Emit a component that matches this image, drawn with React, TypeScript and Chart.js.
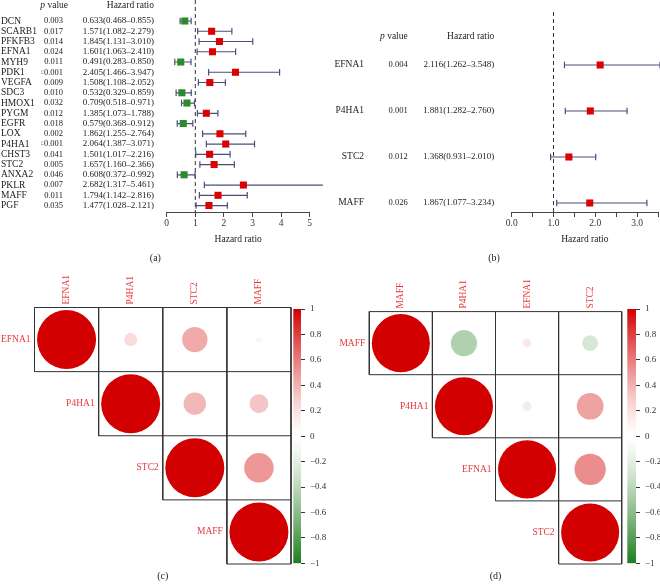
import React, { useEffect, useRef } from 'react';
import { Chart, registerables } from 'chart.js';

Chart.register(...registerables);

const FONT = "'Liberation Serif', 'DejaVu Serif', 'Times New Roman', serif";
Chart.defaults.font.family = FONT;
Chart.defaults.color = '#222';

// ---------- Panel (a): univariate Cox ----------
const genesA = ['DCN', 'SCARB1', 'PFKFB3', 'EFNA1', 'MYH9', 'PDK1', 'VEGFA', 'SDC3', 'HMOX1', 'PYGM', 'EGFR', 'LOX', 'P4HA1', 'CHST3', 'STC2', 'ANXA2', 'PKLR', 'MAFF', 'PGF'];
const pValuesA = ['0.003', '0.017', '0.014', '0.024', '0.011', '<0.001', '0.009', '0.010', '0.032', '0.012', '0.018', '0.002', '<0.001', '0.041', '0.005', '0.046', '0.007', '0.011', '0.035'];
const hrA = [0.633, 1.571, 1.845, 1.601, 0.491, 2.405, 1.508, 0.532, 0.709, 1.385, 0.579, 1.862, 2.064, 1.501, 1.657, 0.608, 2.682, 1.794, 1.477];
const lowA = [0.468, 1.082, 1.131, 1.063, 0.283, 1.466, 1.108, 0.329, 0.518, 1.073, 0.368, 1.255, 1.387, 1.017, 1.160, 0.372, 1.317, 1.142, 1.028];
const highA = [0.855, 2.279, 3.010, 2.410, 0.850, 3.947, 2.052, 0.859, 0.971, 1.788, 0.912, 2.764, 3.071, 2.216, 2.366, 0.992, 5.461, 2.816, 2.121];
const ticksA = [0, 1, 2, 3, 4, 5];

// ---------- Panel (b): multivariate Cox ----------
const genesB = ['EFNA1', 'P4HA1', 'STC2', 'MAFF'];
const pValuesB = ['0.004', '0.001', '0.012', '0.026'];
const hrB = [2.116, 1.881, 1.368, 1.867];
const lowB = [1.262, 1.282, 0.931, 1.077];
const highB = [3.548, 2.760, 2.010, 3.234];
const ticksB = [0, 0.5, 1, 1.5, 2, 2.5, 3, 3.5];

// ---------- Panels (c), (d): correlation ----------
const genesC = ['EFNA1', 'P4HA1', 'STC2', 'MAFF'];
const corrC = [
  [1, 0.22, 0.43, 0.09],
  [0.22, 1, 0.38, 0.32],
  [0.43, 0.38, 1, 0.5],
  [0.09, 0.32, 0.5, 1],
];
const genesD = ['MAFF', 'P4HA1', 'EFNA1', 'STC2'];
const corrD = [
  [1, -0.45, 0.15, -0.27],
  [-0.45, 1, -0.16, 0.46],
  [0.15, -0.16, 1, 0.54],
  [-0.27, 0.46, 0.54, 1],
];

const RED = '#dc0000';
const GREEN = '#2b8a2b';
const BAR = '#4d4d7a';
const LABEL_RED = '#e8383d';
const NEG_END = [30, 125, 30];
const MID = [255, 255, 255];
const POS_END = [210, 0, 0];
const GAMMA = 1.3;

function colorFor(v: number) {
  const t = Math.pow(Math.min(Math.abs(v), 1), GAMMA);
  const end = v < 0 ? NEG_END : POS_END;
  const c = MID.map((x, i) => Math.round(x + (end[i] - x) * t));
  return `rgb(${c[0]},${c[1]},${c[2]})`;
}

const f3 = (v: number) => v.toFixed(3);
const hrText = (hr: number[], lo: number[], hi: number[]) =>
  hr.map((h, i) => `${f3(h)}(${f3(lo[i])}\u2013${f3(hi[i])})`);

function ciSegments(lo: number[], hi: number[]) {
  const pts: any[] = [];
  lo.forEach((l, i) => {
    pts.push({ x: l, y: i }, { x: hi[i], y: i }, { x: null, y: null });
  });
  return pts;
}

const forestHeader = {
  id: 'forestHeader',
  afterDraw(chart: any, _a: any, opts: any) {
    const { ctx, scales } = chart;
    const y = scales.y.getPixelForValue(opts.row);
    const pS = scales.yP;
    const hS = scales.yHR;
    const pRight = pS.right - pS.options.ticks.padding + (opts.pShift || 0);
    const hRight = hS.right - hS.options.ticks.padding;
    ctx.save();
    ctx.fillStyle = '#222';
    ctx.textBaseline = 'middle';
    ctx.textAlign = 'right';
    ctx.font = `9.5px ${FONT}`;
    ctx.fillText('Hazard ratio', hRight, y);
    const rest = ' value';
    ctx.fillText(rest, pRight, y);
    const w = ctx.measureText(rest).width;
    ctx.font = `italic 9.5px ${FONT}`;
    ctx.fillText('p', pRight - w, y);
    ctx.restore();
  },
};

function rowAxis(labels: string[], weight: number, width: number, align: string, pad: number, size: number, min: number, max: number) {
  return {
    type: 'linear',
    position: 'left',
    weight,
    reverse: true,
    min,
    max,
    grid: { display: false, drawTicks: false },
    border: { display: false },
    ticks: {
      autoSkip: false,
      crossAlign: align,
      padding: pad,
      color: '#222',
      font: { size },
      callback: (v: number) => labels[v] ?? '',
    },
    afterBuildTicks: (s: any) => {
      s.ticks = labels.map((_, i) => ({ value: i }));
    },
    afterFit: (s: any) => {
      s.width = width;
      s.paddingTop = 0;
      s.paddingBottom = 0;
    },
  };
}

function forestConfig(o: any) {
  const hrLabels = hrText(o.hr, o.lo, o.hi);
  return {
    type: 'scatter',
    data: {
      datasets: [
        {
          type: 'scatter',
          data: o.hr.map((v: number, i: number) => ({ x: v, y: i })),
          pointStyle: 'rect',
          pointRadius: 5,
          pointHoverRadius: 5,
          pointBackgroundColor: o.hr.map((v: number) => (v >= 1 ? RED : GREEN)),
          pointBorderWidth: 0,
          clip: false,
        },
        {
          type: 'line',
          data: ciSegments(o.lo, o.hi),
          borderColor: BAR,
          borderWidth: 1.2,
          pointStyle: 'line',
          pointRotation: 90,
          pointRadius: 3.3,
          pointHoverRadius: 3.3,
          pointBorderColor: BAR,
          pointBorderWidth: 1.2,
          spanGaps: false,
          fill: false,
          clip: false,
        },
        {
          type: 'line',
          data: [{ x: 1, y: o.yMin }, { x: 1, y: o.yMax }],
          borderColor: '#333',
          borderWidth: 1,
          borderDash: [4, 3],
          pointRadius: 0,
          fill: false,
        },
      ],
    },
    plugins: [forestHeader],
    options: {
      responsive: false,
      animation: false,
      events: [],
      layout: { padding: o.padding, autoPadding: false },
      plugins: {
        legend: { display: false },
        tooltip: { enabled: false },
        title: {
          display: true,
          position: 'bottom',
          text: o.caption,
          color: '#222',
          font: { size: 10, weight: 'normal' },
          padding: { top: 0, bottom: 2 },
        },
        forestHeader: { row: o.headerRow, pShift: o.pShift },
      },
      scales: {
        x: {
          type: 'linear',
          position: 'bottom',
          min: 0,
          max: o.xMax,
          afterBuildTicks: (s: any) => {
            s.ticks = o.xTicks.map((v: number) => ({ value: v }));
          },
          ticks: {
            autoSkip: false,
            maxRotation: 0,
            padding: 1,
            color: '#333',
            font: { size: 9.5 },
            callback: o.xFmt,
          },
          grid: { display: true, drawOnChartArea: false, drawTicks: true, tickLength: 5, color: '#444', lineWidth: 1 },
          border: { display: true, color: '#444', width: 1 },
          title: {
            display: true,
            text: 'Hazard ratio',
            color: '#222',
            font: { size: 9.5 },
            padding: { top: 0, bottom: 7.3 },
          },
          afterFit: (s: any) => {
            s.height = 40;
            s.paddingLeft = 0;
            s.paddingRight = 0;
          },
        },
        y: rowAxis(o.genes, 3, o.widths[0], o.geneAlign, o.pads[0], 9.5, o.yMin, o.yMax),
        yP: rowAxis(o.pvals, 2, o.widths[1], 'near', o.pads[1], 8.5, o.yMin, o.yMax),
        yHR: rowAxis(hrLabels, 1, o.widths[2], 'near', o.pads[2], 9, o.yMin, o.yMax),
      },
    },
  };
}

const makeA = () =>
  forestConfig({
    genes: genesA,
    pvals: pValuesA,
    hr: hrA,
    lo: lowA,
    hi: highA,
    yMin: -2.05,
    yMax: 18.63,
    headerRow: -1.56,
    pShift: 5,
    xMax: 5,
    xTicks: ticksA,
    xFmt: (v: number) => String(v),
    widths: [40, 26, 99.7],
    pads: [0, 4, 12.7],
    geneAlign: 'far',
    padding: { left: 1, right: 20.3, top: 0, bottom: 0 },
    caption: '(a)',
  });

const makeB = () =>
  forestConfig({
    genes: genesB,
    pvals: pValuesB,
    hr: hrB,
    lo: lowB,
    hi: highB,
    yMin: -1.152,
    yMax: 3.196,
    headerRow: -0.61,
    pShift: 0,
    xMax: 3.5,
    xTicks: ticksB,
    xFmt: (v: number) => (Number.isInteger(v) ? v.toFixed(1) : ''),
    widths: [38, 43.7, 100],
    pads: [4, 4, 17.4],
    geneAlign: 'near',
    padding: { left: 0, right: 2, top: 12, bottom: 0 },
    caption: '(b)',
  });

// ---------- correlation plots ----------
function triangleGrid(n: number) {
  const pts: any[] = [];
  for (let k = 0; k <= n; k++) {
    pts.push({ x: Math.max(k - 1, 0), y: k }, { x: n, y: k }, { x: null, y: null });
    pts.push({ x: k, y: 0 }, { x: k, y: Math.min(k + 1, n) }, { x: null, y: null });
  }
  return pts;
}

const corrLabels = {
  id: 'corrLabels',
  afterDraw(chart: any, _a: any, opts: any) {
    const { ctx, scales, chartArea } = chart;
    ctx.save();
    ctx.fillStyle = LABEL_RED;
    ctx.font = `9.5px ${FONT}`;
    ctx.textBaseline = 'middle';
    ctx.textAlign = 'right';
    opts.labels.forEach((g: string, i: number) => {
      ctx.fillText(g, scales.x.getPixelForValue(i) - 4, scales.y.getPixelForValue(i + 0.5));
    });
    ctx.textAlign = 'left';
    opts.labels.forEach((g: string, j: number) => {
      ctx.save();
      ctx.translate(scales.x.getPixelForValue(j + 0.5), chartArea.top - 3);
      ctx.rotate(-Math.PI / 2);
      ctx.fillText(g, 0, 0);
      ctx.restore();
    });
    ctx.restore();
  },
};

function corrConfig(genes: string[], mat: number[][], topH: number, padL: number, padR: number, caption: string) {
  const n = genes.length;
  const pts: any[] = [];
  for (let i = 0; i < n; i++) for (let j = i; j < n; j++) pts.push({ x: j + 0.5, y: i + 0.5, v: mat[i][j] });
  const rad = (ctx: any) => {
    if (!ctx.raw || typeof ctx.raw.v !== 'number') return 0;
    const xs = ctx.chart.scales.x;
    const cell = Math.abs(xs.getPixelForValue(1) - xs.getPixelForValue(0));
    const r = 0.46 * cell * Math.abs(ctx.raw.v);
    return isFinite(r) ? r : 0;
  };
  return {
    type: 'scatter',
    data: {
      datasets: [
        {
          type: 'scatter',
          data: pts,
          pointStyle: 'circle',
          pointRadius: rad,
          pointHoverRadius: rad,
          pointBackgroundColor: (ctx: any) => (ctx.raw && typeof ctx.raw.v === 'number' ? colorFor(ctx.raw.v) : 'transparent'),
          pointBorderWidth: 0,
          clip: false,
        },
        {
          type: 'line',
          data: triangleGrid(n),
          borderColor: '#333',
          borderWidth: 1,
          pointRadius: 0,
          spanGaps: false,
          fill: false,
          clip: false,
        },
      ],
    },
    plugins: [corrLabels],
    options: {
      responsive: false,
      animation: false,
      events: [],
      layout: { padding: { left: padL, right: padR, top: topH, bottom: 0 }, autoPadding: false },
      plugins: {
        legend: { display: false },
        tooltip: { enabled: false },
        title: {
          display: true,
          position: 'bottom',
          text: caption,
          color: '#222',
          font: { size: 10, weight: 'normal' },
          padding: { top: 6, bottom: 6 },
        },
        corrLabels: { labels: genes },
      },
      scales: {
        x: { type: 'linear', display: false, min: 0, max: n },
        y: { type: 'linear', display: false, reverse: true, min: 0, max: n },
      },
    },
  };
}

const makeC = () => corrConfig(genesC, corrC, 45.5, 34.5, 39, '(c)');
const makeD = () => corrConfig(genesD, corrD, 49.6, 39.3, 38.3, '(d)');

const fmtBar = (v: number) => {
  const r = Math.round(v * 10) / 10;
  if (r === 0) return '0';
  return r < 0 ? '\u2212' + String(Math.abs(r)) : String(r);
};

function colorbarConfig(padLeft: number, axisW: number) {
  return {
    type: 'bar',
    data: {
      labels: [''],
      datasets: [
        {
          data: [[-1, 1]],
          backgroundColor: (ctx: any) => {
            const chart = ctx.chart;
            const ys = chart.scales.y;
            if (!ys || !chart.chartArea) return 'transparent';
            const a = ys.getPixelForValue(-1);
            const b = ys.getPixelForValue(1);
            if (!isFinite(a) || !isFinite(b)) return 'transparent';
            const g = chart.ctx.createLinearGradient(0, a, 0, b);
            for (let k = 0; k <= 40; k++) {
              const v = -1 + k / 20;
              g.addColorStop(k / 40, colorFor(v));
            }
            return g;
          },
          borderWidth: 0,
          barPercentage: 1,
          categoryPercentage: 1,
        },
      ],
    },
    options: {
      responsive: false,
      animation: false,
      events: [],
      layout: { padding: { left: padLeft, right: 0, top: 47, bottom: 24.7 }, autoPadding: false },
      plugins: { legend: { display: false }, tooltip: { enabled: false } },
      scales: {
        x: { display: false },
        y: {
          position: 'right',
          min: -1,
          max: 1,
          ticks: { stepSize: 0.2, padding: 5, autoSkip: false, color: '#333', font: { size: 9 }, callback: fmtBar },
          grid: { display: true, drawOnChartArea: false, drawTicks: true, tickLength: 4, color: '#333' },
          border: { display: false },
          afterFit: (s: any) => {
            s.width = axisW;
            s.paddingTop = 0;
            s.paddingBottom = 0;
          },
        },
      },
    },
  };
}

const makeBarC = () => colorbarConfig(8.3, 29);
const makeBarD = () => colorbarConfig(7.3, 24);

function ChartCanvas({ x, y, w, h, make }: { x: number; y: number; w: number; h: number; make: () => any }) {
  const ref = useRef<HTMLCanvasElement>(null);
  useEffect(() => {
    const chart = new Chart(ref.current as HTMLCanvasElement, make());
    return () => chart.destroy();
  }, [make]);
  return (
    <canvas
      ref={ref}
      width={w}
      height={h}
      style={{ position: 'absolute', left: x, top: y, width: w, height: h, display: 'block' }}
    />
  );
}

export default function App() {
  return (
    <div style={{ position: 'absolute', left: 0, top: 0, width: 660, height: 588, background: '#fff', overflow: 'hidden' }}>
      <ChartCanvas x={0} y={0} w={330} h={266} make={makeA} />
      <ChartCanvas x={330} y={0} w={330} h={266} make={makeB} />
      <ChartCanvas x={0} y={262} w={330} h={326} make={makeC} />
      <ChartCanvas x={285} y={262} w={45} h={326} make={makeBarC} />
      <ChartCanvas x={330} y={262} w={330} h={326} make={makeD} />
      <ChartCanvas x={620} y={262} w={40} h={326} make={makeBarD} />
    </div>
  );
}
